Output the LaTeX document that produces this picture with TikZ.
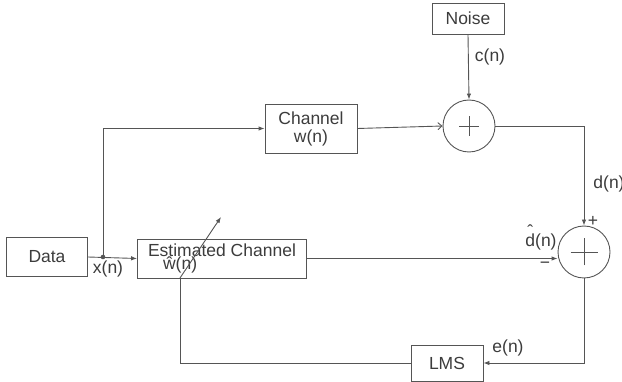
\documentclass[tikz,border=0pt]{standalone}
\usepackage{fontspec}
\setmainfont{Liberation Sans}
\usetikzlibrary{positioning,arrows.meta}

\definecolor{linegray}{RGB}{85,85,85}
\definecolor{textgray}{RGB}{60,60,60}
\newcommand{\dhat}{\ooalign{d\cr\hidewidth\raisebox{0.5em}{ˆ}\hidewidth\cr}}

\begin{document}
\begin{tikzpicture}[
    x=1pt, y=-1pt,
    color=linegray, line width=0.9pt,
    box/.style={rectangle, draw, inner sep=0pt, align=center, text=textgray, font=\fontsize{17.5}{18}\selectfont},
    adder/.style={circle, draw, inner sep=0pt, minimum size=52pt,
        path picture={\draw ([xshift=-#1]path picture bounding box.center) -- ([xshift=#1]path picture bounding box.center)
                            ([yshift=-#1]path picture bounding box.center) -- ([yshift=#1]path picture bounding box.center);}},
    lbl/.style={inner sep=0pt, text=textgray, font=\fontsize{17.5}{18}\selectfont},
    arrow/.style={-{Latex[length=6pt,width=4.5pt]}},
]
\useasboundingbox (0,0) rectangle (622,382);

% Blocks
\node[box, minimum width=81pt, minimum height=39pt] (data) at (47,257) {Data};
\node[box, minimum width=169pt, minimum height=39pt, align=left, font=\fontsize{17.5}{12}\selectfont] (est) at (222,258.5) {Estimated Channel\\\hspace*{15pt}ŵ(n)};
\node[box, minimum width=92pt, minimum height=49pt] (chan) at (311,128.5) {Channel\\w(n)};
\node[box, minimum width=72pt, minimum height=31pt] (noise) at (468,18.5) {Noise};
\node[box, minimum width=72pt, minimum height=36pt] (lms) at (447,363) {LMS};
\node[adder=10pt] (add1) at (469,126) {};
\node[adder=13.5pt] (add2) at (584,252) {};

\coordinate (split) at (103,257);
\coordinate (fb) at (180,278);
\coordinate (tune) at (221,217);

% Connections
\draw[arrow] (data.east) -- (est.west);
\fill (split) circle (2.3pt);
\draw[arrow] (split) |- (chan.west);
\draw[-{Straight Barb[length=4pt,width=7pt]}] (chan.east) -- (add1.west);
\draw[arrow] (noise.south) -- (add1.north);
\draw[arrow] (add1.east) -| (add2.north);
\draw[arrow] (est.east) -- (est.east -| add2.west);
\draw[arrow] (add2.south) |- (lms.east);
\draw (lms.west) -| (fb);
\draw[arrow] (fb) -- (tune);

% Labels
\node[lbl] (xn) at (108,269) {x(n)};
\node[lbl] (cn) at (490,57) {c(n)};
\node[lbl] (dn) at (609,184) {d(n)};
\node[lbl] (plus) at (593,221) {+};
\node[lbl] (dhn) at (541,242) {\dhat(n)};
\node[lbl] (minus) at (545,265) {−};
\node[lbl] (en) at (508,348) {e(n)};

\end{tikzpicture}
\end{document}
